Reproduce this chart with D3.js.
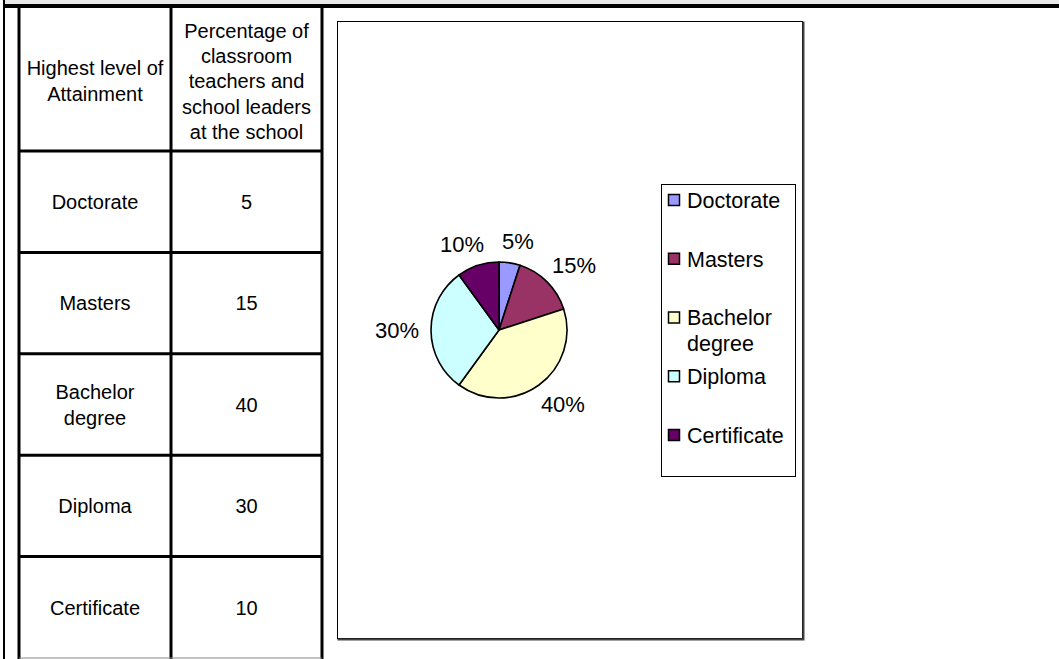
<!DOCTYPE html>
<meta charset="utf-8">
<head>
    <script type="text/javascript" src="https://cdn.jsdelivr.net/npm/d3@7"></script>
    <style>
        body { margin: 0; background: #fff; }
        text { font-family: "Liberation Sans", Arial, sans-serif; fill: #000; }
        .cell { font-size: 20px; }
        .chart text { font-size: 21.5px; }
        .chart text.lab { font-size: 22px; }
    </style>
</head>
<body>
<div id="chart"></div>
<script>
    // data
    var categories = ["Doctorate", "Masters", "Bachelor degree", "Diploma", "Certificate"];
    var values = [5, 15, 40, 30, 10];
    var colours = ["#9999FF", "#993366", "#FFFFCC", "#CCFFFF", "#660066"];
    var header1 = ["Highest level of", "Attainment"];
    var header2 = ["Percentage of", "classroom", "teachers and", "school leaders", "at the school"];

    var w = 1059, h = 659;
    var svg = d3.select("#chart").append("svg")
        .attr("width", w).attr("height", h);

    // page frame: grey strip, thick top rule, left rule
    svg.append("rect").attr("x", 5).attr("y", 0).attr("width", w).attr("height", 4).attr("fill", "#e8e8e8");
    svg.append("rect").attr("x", 3).attr("y", 4).attr("width", w).attr("height", 4).attr("fill", "#000");
    svg.append("rect").attr("x", 3).attr("y", 0).attr("width", 2).attr("height", h).attr("fill", "#000");

    // ---- table ----
    var colX = [19, 171, 322];
    var headTop = 8, headBottom = 151;
    var rowY = d3.scaleLinear().domain([0, categories.length]).range([headBottom, 658]);
    var table = svg.append("g");

    function wrap(str, maxW, size) {
        // split words into lines that fit maxW
        var tmp = svg.append("text").style("font-size", size + "px");
        var words = str.split(" "), lines = [], cur = "";
        words.forEach(function(word) {
            var test = cur ? cur + " " + word : word;
            tmp.text(test);
            if (tmp.node().getComputedTextLength() > maxW && cur) { lines.push(cur); cur = word; }
            else cur = test;
        });
        lines.push(cur);
        tmp.remove();
        return lines;
    }

    function multiline(g, lines, x, cy, lh) {
        var t = g.append("text").attr("class", "cell").attr("text-anchor", "middle");
        lines.forEach(function(l, i) {
            t.append("tspan").attr("x", x)
                .attr("y", cy + (i - (lines.length - 1) / 2) * lh)
                .attr("dy", "0.36em").text(l);
        });
    }

    var c1 = (colX[0] + colX[1]) / 2, c2 = (colX[1] + colX[2]) / 2;
    multiline(table, header1, c1, 81, 26);
    multiline(table, header2, c2, 81, 25.3);

    categories.forEach(function(d, i) {
        var cy = (rowY(i) + rowY(i + 1)) / 2;
        multiline(table, wrap(d, 140, 20), c1, cy, 26);
        multiline(table, [String(values[i])], c2, cy, 26);
    });

    // grid lines
    table.selectAll("line.v").data(colX).enter().append("line")
        .attr("x1", function(d) { return d; }).attr("x2", function(d) { return d; })
        .attr("y1", headTop).attr("y2", h)
        .attr("stroke", "#000").attr("stroke-width", 3);
    table.selectAll("line.h").data(d3.range(categories.length)).enter().append("line")
        .attr("x1", colX[0]).attr("x2", colX[2])
        .attr("y1", function(i) { return rowY(i); }).attr("y2", function(i) { return rowY(i); })
        .attr("stroke", "#000").attr("stroke-width", 3);
    table.append("line").attr("x1", colX[0]).attr("x2", colX[2])
        .attr("y1", 658).attr("y2", 658).attr("stroke", "#888").attr("stroke-width", 1);

    // ---- chart ----
    var chart = svg.append("g").attr("class", "chart");
    var box = { x: 337.5, y: 21.5, w: 465, h: 617 };
    chart.append("rect").attr("x", box.x).attr("y", box.y).attr("width", box.w).attr("height", box.h)
        .attr("fill", "#fff").attr("stroke", "#000").attr("stroke-width", 1);
    chart.append("path")
        .attr("d", "M" + (box.x + box.w + 1) + "," + (box.y) + "V" + (box.y + box.h + 1) + "H" + box.x)
        .attr("fill", "none").attr("stroke", "#444").attr("stroke-width", 2);

    var cx = 499, cy = 330, r = 68;
    var pie = d3.pie().sort(null).value(function(d) { return d; });
    var arc = d3.arc().innerRadius(0).outerRadius(r);
    var arcs = pie(values);

    var g = chart.append("g").attr("transform", "translate(" + cx + "," + cy + ")");
    g.selectAll("path").data(arcs).enter().append("path")
        .attr("d", arc)
        .attr("fill", function(d, i) { return colours[i]; })
        .attr("stroke", "#000").attr("stroke-width", 1.6).attr("stroke-linejoin", "round");

    // percentage labels sitting just outside the rim
    var total = d3.sum(values);
    var fmt = function(v) { return Math.round(v / total * 100) + "%"; };
    var labels = g.selectAll("text.lab").data(arcs).enter().append("text")
        .attr("class", "lab").attr("text-anchor", "middle").attr("dy", "0.36em")
        .text(function(d) { return fmt(d.value); });
    labels.each(function(d) {
        var a = (d.startAngle + d.endAngle) / 2;
        var hw = this.getComputedTextLength() / 2, hh = 10;
        var s = Math.sin(a), c = Math.cos(a);
        var x = s * (r + 12) + Math.sign(s) * Math.sqrt(Math.abs(s)) * hw;
        var y = -c * (r + 12) - Math.sign(c) * Math.sqrt(Math.abs(c)) * hh;
        d3.select(this).attr("x", x).attr("y", y);
    });

    // legend
    var lg = { x: 661.5, y: 184.5, w: 134, h: 292 };
    chart.append("rect").attr("x", lg.x).attr("y", lg.y).attr("width", lg.w).attr("height", lg.h)
        .attr("fill", "#fff").attr("stroke", "#000").attr("stroke-width", 1);
    var ly = d3.scalePoint().domain(categories).range([200, 435]);
    var items = chart.selectAll("g.item").data(categories).enter().append("g")
        .attr("class", "item")
        .attr("transform", function(d) { return "translate(0," + ly(d) + ")"; });
    items.append("rect").attr("x", 668.5).attr("y", -5.5).attr("width", 11).attr("height", 11)
        .attr("fill", function(d, i) { return colours[i]; })
        .attr("stroke", "#000").attr("stroke-width", 1.5);
    items.each(function(d) {
        var t = d3.select(this).append("text").attr("x", 687);
        wrap(d, 110, 21.5).forEach(function(l, k) {
            t.append("tspan").attr("x", 687).attr("y", k * 26).attr("dy", "0.36em").text(l);
        });
    });
</script>
</body>
